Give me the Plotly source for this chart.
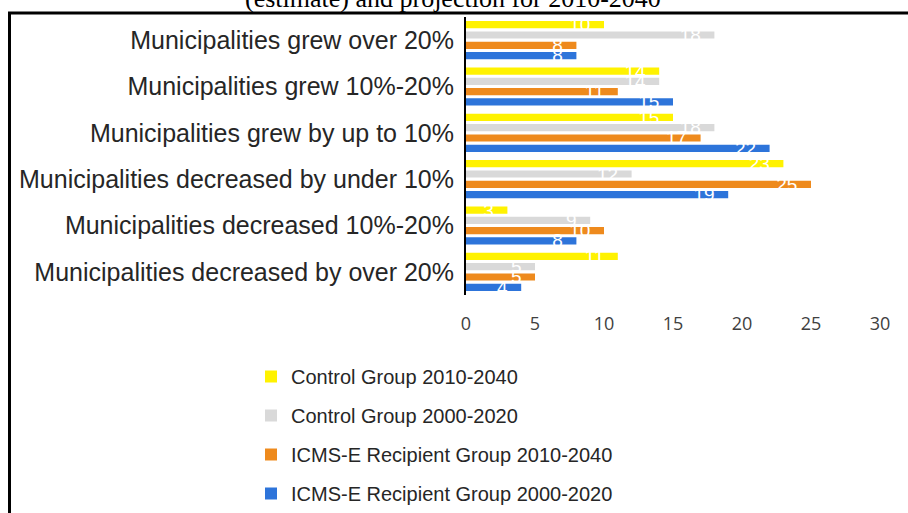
import plotly.graph_objects as go

# Population change categories (top to bottom)
categories = [
    "Municipalities grew over 20%",
    "Municipalities grew 10%-20%",
    "Municipalities grew by up to 10%",
    "Municipalities decreased by under 10%",
    "Municipalities decreased 10%-20%",
    "Municipalities decreased by over 20%",
]

# Number of municipalities per category
control_2010_2040 = [10, 14, 15, 23, 3, 11]
control_2000_2020 = [18, 14, 18, 12, 9, 5]
icms_2010_2040 = [8, 11, 17, 25, 10, 5]
icms_2000_2020 = [8, 15, 22, 19, 8, 4]

series_names = [
    "Control Group 2010-2040",
    "Control Group 2000-2020",
    "ICMS-E Recipient Group 2010-2040",
    "ICMS-E Recipient Group 2000-2020",
]
series_values = [control_2010_2040, control_2000_2020, icms_2010_2040, icms_2000_2020]
series_colors = ["#FFF200", "#D9D9D9", "#EE8A1D", "#2D74DA"]

W, H = 908, 513
L, R, T, B = 466, 28, 17, 218
pw, ph = W - L - R, H - T - B


def px_x(x):
    return (x - L) / pw


def px_y(y):
    return (H - B - y) / ph


fig = go.Figure()
for i, (name, vals, col) in enumerate(zip(series_names, series_values, series_colors)):
    fig.add_trace(go.Bar(
        y=categories,
        x=vals,
        name=name,
        orientation="h",
        marker=dict(color=col, line=dict(width=0)),
        text=vals,
        texttemplate="%{x}\u00a0\u00a0",
        textposition="inside",
        insidetextanchor="end",
        constraintext="none",
        textfont=dict(family="Liberation Sans, Arial, sans-serif", size=19, color="white"),
        legendgroup=f"g{i}",
    ))

fig.update_layout(
    width=W,
    height=H,
    margin=dict(l=L, r=R, t=T, b=B, autoexpand=False),
    paper_bgcolor="white",
    plot_bgcolor="white",
    barmode="group",
    bargap=0.11,
    bargroupgap=0.3,
    showlegend=True,
    legend=dict(
        x=px_x(251),
        y=px_y(357),
        xanchor="left",
        yanchor="top",
        traceorder="grouped",
        tracegroupgap=10,
        font=dict(family="Liberation Sans, Arial, sans-serif", size=20, color="#262626"),
        bgcolor="rgba(0,0,0,0)",
    ),
    xaxis=dict(
        range=[0, 30],
        dtick=5,
        tick0=0,
        showgrid=False,
        zeroline=False,
        showline=False,
        ticks="outside",
        ticklen=12,
        tickcolor="rgba(0,0,0,0)",
        tickfont=dict(family="Open Sans, sans-serif", size=18, color="#404040"),
        fixedrange=True,
    ),
    yaxis=dict(
        type="category",
        autorange="reversed",
        showgrid=False,
        showline=True,
        linecolor="black",
        linewidth=2,
        ticks="outside",
        ticklen=5,
        tickcolor="rgba(0,0,0,0)",
        tickfont=dict(family="Liberation Sans, Arial, sans-serif", size=25, color="#262626"),
        fixedrange=True,
    ),
    annotations=[
        dict(
            text="(estimate) and projection for 2010-2040",
            xref="paper", yref="paper",
            x=px_x(453), y=px_y(15),
            xanchor="center", yanchor="bottom",
            showarrow=False,
            font=dict(family="Liberation Serif, Times New Roman, serif", size=26, color="black"),
        )
    ],
    shapes=[
        # outer frame (top and left edges)
        dict(type="line", xref="paper", yref="paper",
             x0=px_x(8), x1=px_x(960), y0=px_y(13), y1=px_y(13),
             line=dict(color="black", width=3)),
        dict(type="line", xref="paper", yref="paper",
             x0=px_x(9.5), x1=px_x(9.5), y0=px_y(12), y1=px_y(600),
             line=dict(color="black", width=3)),
    ],
)

fig.write_html("out.html")
